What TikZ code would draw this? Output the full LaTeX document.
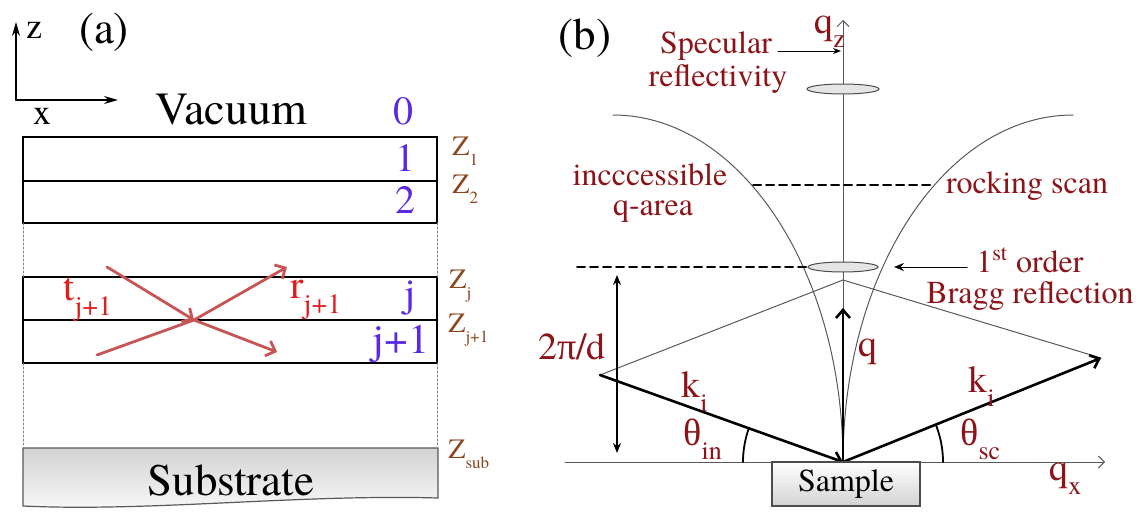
\documentclass[tikz,border=0pt]{standalone}
\usepackage{fontspec}
\setmainfont{texgyretermes}[Extension=.otf,UprightFont=*-regular,BoldFont=*-bold,ItalicFont=*-italic]
\newfontfamily\tnr{texgyretermes}[Extension=.otf,UprightFont=*-regular]
\newfontfamily\grk{Liberation Serif}
\usepackage{graphicx}
\usepackage{tikz}
\usetikzlibrary{arrows.meta,shapes.geometric}
\usepackage{xcolor}
\definecolor{labred}{RGB}{140,20,25}
\definecolor{zbrown}{RGB}{140,70,30}
\definecolor{layblue}{RGB}{90,40,230}
\definecolor{rayred}{RGB}{200,85,85}
\definecolor{txtred}{RGB}{225,30,30}
\newcommand{\fsz}[1]{\tnr\fontsize{#1}{#1}\selectfont}
\newcommand{\dn}[2]{\raisebox{-0.38em}{\fsz{#1}#2}}

\begin{document}
\begin{tikzpicture}[x=0.5pt,y=0.5pt,line cap=round,
  layer/.style={line width=1.4pt},
  guide/.style={gray,line width=0.5pt,dash pattern=on 1pt off 1pt},
  ray/.style={rayred,line width=1.4pt},
  fine/.style={black!65,line width=0.5pt},
  vec/.style={line width=1.3pt,-{Straight Barb[length=4pt,width=7pt]}},
  scanline/.style={line width=1pt,dash pattern=on 4pt off 2.5pt},
  lab/.style={text=labred,font=\fsz{16},inner sep=0pt},
  bigred/.style={text=labred,font=\fsz{19},anchor=base west,inner sep=0.5pt},
  num/.style={text=layblue,font=\fsz{20},anchor=base,inner sep=0.5pt},
  zlab/.style={text=zbrown,font=\fsz{14},anchor=base west,inner sep=0.5pt}]
\useasboundingbox (0,0) rectangle (1141,-514);

% (a) layers
\coordinate (o) at (16,-100);
\coordinate (zt) at (16,-22);
\coordinate (xt) at (118,-100);
\draw[line width=0.8pt,-{Stealth[length=7pt,width=4pt]}] (o) -- (zt);
\draw[line width=0.8pt,-{Stealth[length=7pt,width=4pt]}] (o) -- (xt);
\node[font=\fsz{18}] (zl) at (34,-30) {z};
\node[font=\fsz{18}] (xl) at (42,-116) {x};
\node[font=\fsz{22.5}] (pa) at (104,-32) {(a)};
\node[font=\fsz{23}] (vac) at (231,-110) {Vacuum};

\draw[layer] (23,-137) rectangle (437,-223);
\draw[layer] (23,-181) -- (437,-181);
\draw[layer] (23,-277) rectangle (437,-363);
\draw[layer] (23,-320) -- (437,-320);
\draw[guide] (23,-223) -- (23,-277) (23,-363) -- (23,-447);
\draw[guide] (437,-223) -- (437,-277) (437,-363) -- (437,-447);

\node[num] (n0) at (403,-124) {0};
\node[num] (n1) at (405,-171) {1};
\node[num] (n2) at (405,-213) {2};
\node[num] (nj) at (410,-306) {j};
\node[num,font=\fsz{21}] (nj1) at (401,-353) {j+1};

\node[zlab] (z1) at (451,-155) {Z\dn{8.5}{1}};
\node[zlab] (z2) at (451,-193) {Z\dn{8.5}{2}};
\node[zlab] (zj) at (448,-288) {Z\dn{8.5}{j}};
\node[zlab] (zj1) at (447,-332) {Z\dn{8.5}{j+1}};
\node[zlab] (zsub) at (447,-458) {Z\dn{8.5}{sub}};

% rays at interface j/j+1
\coordinate (ta) at (107,-267);
\coordinate (tb) at (97,-355);
\coordinate (xc) at (194,-320);
\coordinate (ra) at (287,-267);
\coordinate (tr) at (277,-352);
\draw[ray,-{Straight Barb[length=4pt,width=8pt]}] (ta) -- (xc);
\draw[ray] (tb) -- (xc);
\draw[ray,-{Straight Barb[length=4pt,width=8pt]}] (xc) -- (ra);
\draw[ray,-{Straight Barb[length=4pt,width=8pt]}] (xc) -- (tr);
\node[text=txtred,font=\fsz{20},anchor=base west,inner sep=0.5pt] (tl) at (62,-300) {t\dn{14}{j+1}};
\node[text=txtred,font=\fsz{20},anchor=base west,inner sep=0.5pt] (rl) at (289,-298) {r\dn{14}{j+1}};

\draw[draw=gray!70!black,line width=0.6pt,top color=gray!35,bottom color=gray!4]
  (23,-448) -- (438,-448) -- (438,-498) .. controls (300,-494) and (150,-512) .. (23,-506) -- cycle;
\node[font=\fsz{22.5}] (sub) at (231,-480) {Substrate};

% (b) reciprocal space
\node[font=\fsz{22.5}] (pb) at (585,-38) {(b)};
\coordinate (S) at (843,-462);
\coordinate (qzt) at (843,-20);
\coordinate (qxa) at (565,-462);
\coordinate (qxt) at (1105,-462);
\draw[fine,-{Straight Barb[length=3pt,width=6pt]}] (S) -- (qzt);
\draw[fine,-{Straight Barb[length=3pt,width=6pt]}] (qxa) -- (qxt);
\node[bigred] (qz) at (813,-33) {q\dn{13}{z}};
\node[bigred] (qx) at (1048,-480) {q\dn{13}{x}};

\draw[fine] (613,-115) arc[start angle=90,end angle=0,x radius=230,y radius=347];
\draw[fine] (1073,-115) arc[start angle=90,end angle=180,x radius=230,y radius=347];

\node[ellipse,draw=black!70,fill=gray!20,line width=0.5pt,inner sep=0pt,
  minimum width=36pt,minimum height=5pt] (spec) at (843,-89) {};
\node[ellipse,draw=black!70,fill=gray!20,line width=0.5pt,inner sep=0pt,
  minimum width=35pt,minimum height=5pt] (bragg) at (843,-267) {};

\node[lab] (spl) at (716,-46) {Specular};
\node[lab] (spl2) at (718,-79) {reflectivity};
\coordinate (spa) at (778,-51);
\coordinate (spb) at (841,-51);
\draw[line width=0.5pt,-{Stealth[length=4pt,width=3pt]}] (spa) -- (spb);

\node[lab] (ina) at (650,-175) {incccessible};
\node[lab] (inb) at (653,-212) {q-area};
\coordinate (rk1) at (753,-185);
\coordinate (rk2) at (934,-185);
\draw[scanline] (rk1) -- (rk2);
\node[lab] (rk) at (1027,-186) {rocking scan};

\coordinate (bl) at (577,-267);
\draw[scanline] (bl) -- (bragg.west);
\coordinate (ba) at (967,-267);
\coordinate (bb) at (894,-267);
\draw[line width=0.5pt,-{Stealth[length=5pt,width=4pt]}] (ba) -- (bb);
\node[lab] (bo) at (1030,-260) {1\textsuperscript{st} order};
\node[lab] (br) at (1030,-296) {Bragg reflection};

\coordinate (ap) at (843,-280);
\coordinate (kl) at (600,-375);
\coordinate (kr) at (1101,-358);
\coordinate (qt) at (843,-308);
\draw[fine] (kl) -- (ap) -- (kr);
\draw[vec] (kl) -- (S);
\draw[vec] (S) -- (kr);
\draw[vec] (S) -- (qt);
\node[text=labred,font=\fsz{19}] (ql) at (868,-352) {q};

\coordinate (da) at (617,-275);
\coordinate (db) at (617,-453);
\draw[line width=1pt,{Stealth[length=5pt,width=4pt]}-{Stealth[length=5pt,width=4pt]}] (da) -- (db);
\node[text=labred,font=\fsz{19}] (dl) at (572,-347) {2{\grk π}/d};

\node[bigred] (kil) at (680,-397) {k\dn{13}{i}};
\node[bigred] (kir) at (967,-392) {k\dn{13}{i}};
\node[bigred] (thi) at (682,-445) {{\grk θ}\dn{13}{in}};
\node[bigred] (ths) at (959,-445) {{\grk θ}\dn{13}{sc}};
\draw[line width=0.9pt] (743,-462) arc[start angle=180,end angle=160,radius=100];
\draw[line width=0.9pt] (943,-462) arc[start angle=0,end angle=22,radius=100];

\node[draw=gray!60!black,line width=0.6pt,top color=white,bottom color=gray!35,
  minimum width=74pt,minimum height=22pt,font=\fsz{16}] (smp) at (846,-484) {Sample};
\end{tikzpicture}
\end{document}
